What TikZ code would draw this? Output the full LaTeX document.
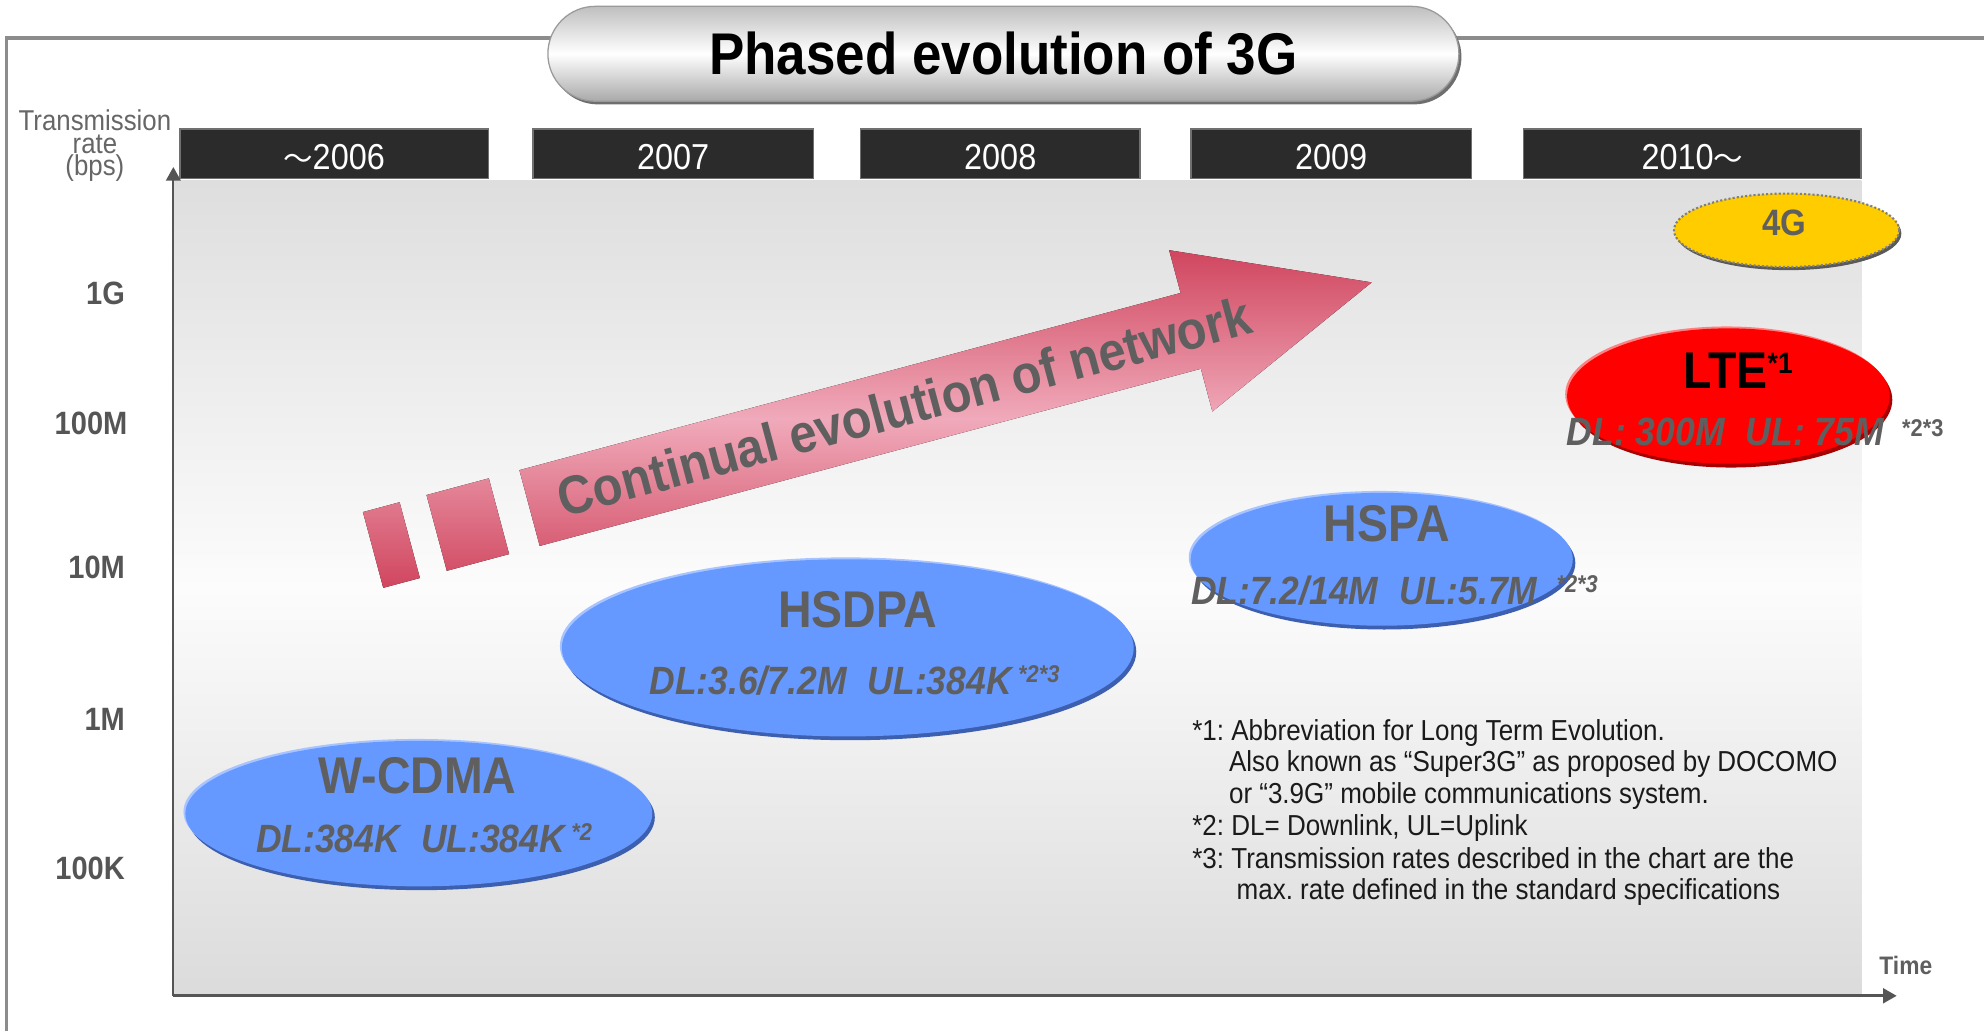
\documentclass[tikz,border=0pt]{standalone}
\usepackage{fontspec}
\setmainfont{Liberation Sans}[FakeStretch=0.9]
\newfontfamily\cjk{Noto Sans CJK JP}
\usetikzlibrary{shapes.geometric,arrows.meta,shadows}
\newcommand{\setfs}[1]{\fontsize{#1}{#1}\selectfont}
\frenchspacing
\definecolor{framegray}{HTML}{8C8C8C}
\definecolor{boxfill}{HTML}{2B2B2B}
\definecolor{boxborder}{HTML}{707070}
\definecolor{areatop}{HTML}{DEDEDE}
\definecolor{areamid}{HTML}{FCFCFC}
\definecolor{areabot}{HTML}{DBDBDB}
\definecolor{axisgray}{HTML}{555555}
\definecolor{lblgray}{HTML}{5F5F5F}
\definecolor{ticgray}{HTML}{555555}
\definecolor{ellblue}{HTML}{6699FF}
\definecolor{ellbluedark}{HTML}{3D5FB0}
\definecolor{ellbluelight}{HTML}{A8C4FF}
\definecolor{ltered}{HTML}{FF0000}
\definecolor{ltedark}{HTML}{A80000}
\definecolor{ltelight}{HTML}{FF8080}
\definecolor{gyellow}{HTML}{FFCC00}
\definecolor{arrowdark}{HTML}{D0465E}
\definecolor{arrowlight}{HTML}{F0AABB}
\definecolor{pilltop}{HTML}{BFBFBF}
\definecolor{pillbot}{HTML}{A9A9A9}
\definecolor{pillborder}{HTML}{9A9A9A}
\definecolor{pillshadow}{HTML}{6E6E6E}
\definecolor{notetext}{HTML}{1A1A1A}
\begin{document}
\begin{tikzpicture}[x=0.6pt,y=-0.6pt,
  frameline/.style={draw=framegray,line width=1.5pt},
  pill/.style={rounded corners=22.5pt,minimum width=432pt,minimum height=45pt,inner sep=0,
    draw=pillborder,line width=0.6pt,top color=pilltop,bottom color=pillbot,middle color=white,
    general shadow={fill=pillshadow,shadow xshift=1.2pt,shadow yshift=-1.5pt},
    font=\bfseries\setfs{27.9},text=black},
  yearbox/.style={draw=boxborder,line width=0.8pt,fill=boxfill,minimum height=23.4pt,inner sep=0,
    text height=14.6pt,text depth=0pt,text=white,font=\setfs{17.1}},
  axisy/.style={draw=axisgray,line width=0.9pt,-{Triangle[length=6.5pt,width=7pt]}},
  axisx/.style={draw=axisgray,line width=1.3pt,-{Triangle[length=6.5pt,width=7pt]}},
  ylbl/.style={inner sep=0,anchor=base,text=ticgray!90!white,font=\setfs{13.6}},
  tick/.style={inner sep=0,anchor=base east,text=ticgray,font=\bfseries\setfs{15.3}},
  blueell/.style={ellipse,inner sep=0,fill=ellblue,
    general shadow={fill=ellbluedark,shadow xshift=1.2pt,shadow yshift=-1.8pt},
    general shadow={fill=ellbluelight,shadow xshift=-0.9pt,shadow yshift=0.9pt}},
  redell/.style={ellipse,inner sep=0,fill=ltered,
    general shadow={fill=ltedark,shadow xshift=1.2pt,shadow yshift=-1.8pt},
    general shadow={fill=ltelight,shadow xshift=-0.9pt,shadow yshift=0.9pt}},
  yellell/.style={ellipse,inner sep=0,fill=gyellow,draw=gray,densely dotted,line width=1pt,
    general shadow={fill=gray!70!black,shadow xshift=1pt,shadow yshift=-1.5pt}},
  biglbl/.style={inner sep=0,anchor=base,text=lblgray,font=\bfseries\setfs{24.5}},
  dltext/.style={inner sep=0,anchor=base west,text=lblgray,font=\bfseries\itshape\setfs{18.7}},
  note/.style={inner sep=0,anchor=base west,text=notetext,font=\setfs{13.7}}
]
\useasboundingbox (0,0) rectangle (1568,815);

% outer frame
\coordinate (fbl) at (5,815);
\coordinate (ftl) at (5,30);
\coordinate (ftr) at (1568,30);
\draw[frameline] (fbl) -- (ftl) -- (ftr);

% title
\node[pill] (title) at (793,42.5) {Phased evolution of 3G};

% plot area
\fill[top color=areatop,bottom color=areabot,middle color=areamid] (137,143) rectangle (1471,787);

% year boxes
\node[yearbox,minimum width=146.4pt] (y1) at (264,121.5) {{\cjk\setfs{14}～}2006};
\node[yearbox,minimum width=133.2pt] (y2) at (532,121.5) {2007};
\node[yearbox,minimum width=132.6pt] (y3) at (790.5,121.5) {2008};
\node[yearbox,minimum width=133.2pt] (y4) at (1052,121.5) {2009};
\node[yearbox,minimum width=160.2pt] (y5) at (1337.5,121.5) {2010{\cjk\setfs{14}～}};

% axes
\coordinate (o) at (137,787);
\coordinate (yend) at (137,132);
\coordinate (xend) at (1499,787);
\draw[axisy] (o) -- (yend);
\draw[axisx] (o) -- (xend);

% axis labels
\node[ylbl] (yl1) at (75,103) {Transmission};
\node[ylbl] (yl2) at (75,121) {rate};
\node[ylbl] (yl3) at (75,139) {(bps)};
\node[tick] (t1) at (99,241) {1G};
\node[tick] (t2) at (101,343) {100M};
\node[tick] (t3) at (99,457) {10M};
\node[tick] (t4) at (99,577) {1M};
\node[tick] (t5) at (99,695) {100K};
\node[inner sep=0,anchor=base west,text=lblgray,font=\bfseries\setfs{12}] (time) at (1485,770) {Time};

% evolution arrow
\begin{scope}[shift={(418.5,401.5)},rotate=15]
  \coordinate (b1) at (0,-31);
  \coordinate (b2) at (541,-31);
  \coordinate (b3) at (541,-66);
  \coordinate (btip) at (689,0);
  \coordinate (b5) at (541,66);
  \coordinate (b6) at (541,31);
  \coordinate (b7) at (0,31);
  \coordinate (s1a) at (-128,-31);
  \coordinate (s1b) at (-98,-31);
  \coordinate (s1c) at (-98,31);
  \coordinate (s1d) at (-128,31);
  \coordinate (s2a) at (-76,-31);
  \coordinate (s2b) at (-25,-31);
  \coordinate (s2c) at (-25,31);
  \coordinate (s2d) at (-76,31);
  \coordinate (atext) at (307,-1);
\end{scope}
\fill[top color=arrowdark,bottom color=arrowdark,middle color=arrowlight]
  (b1) -- (b2) -- (b3) -- (btip) -- (b5) -- (b6) -- (b7) -- cycle
  (s1a) -- (s1b) -- (s1c) -- (s1d) -- cycle
  (s2a) -- (s2b) -- (s2c) -- (s2d) -- cycle;
\node[inner sep=0,rotate=15,text=lblgray,font=\bfseries\setfs{25.7}] (arrowtext) at (atext) {Continual evolution of network};

% ellipses
\node[yellell,minimum width=106.8pt,minimum height=34.8pt] (e4g) at (1412,182) {};
\node[redell,minimum width=153pt,minimum height=64.2pt] (elte) at (1366,313) {};
\node[blueell,minimum width=181.2pt,minimum height=63pt] (ehspa) at (1092,442) {};
\node[blueell,minimum width=271.2pt,minimum height=84pt] (ehsdpa) at (670,512) {};
\node[blueell,minimum width=221.4pt,minimum height=69pt] (ewcdma) at (331,643) {};

% ellipse labels
\node[inner sep=0,anchor=base,text=lblgray,font=\bfseries\setfs{17.4}] (l4g) at (1410,186) {4G};
\node[inner sep=0,anchor=base west,text=black,font=\bfseries\setfs{24.5}] (llte) at (1330,307) {LTE\raisebox{7pt}{\setfs{14}*1}};
\node[dltext] (dllte) at (1238,352) {DL: 300M\hspace{10pt}UL: 75M};
\node[inner sep=0,anchor=base west,text=lblgray,font=\bfseries\setfs{11.5}] (nlte) at (1503,345) {*2*3};

\node[biglbl] (lhspa) at (1096,428) {HSPA};
\node[dltext] (dlhspa) at (941,478) {DL:7.2/14M\hspace{10pt}UL:5.7M\hspace{9pt}\raisebox{6pt}{\setfs{11.5}*2*3}};

\node[biglbl] (lhsdpa) at (678,496) {HSDPA};
\node[dltext] (dlhsdpa) at (513,549) {DL:3.6/7.2M\hspace{10pt}UL:384K\hspace{3pt}\raisebox{6pt}{\setfs{11.5}*2*3}};

\node[biglbl] (lwcdma) at (330,627) {W-CDMA};
\node[dltext] (dlwcdma) at (202,674) {DL:384K\hspace{10pt}UL:384K\hspace{3pt}\raisebox{6pt}{\setfs{11.5}*2}};

% footnotes
\node[note] (n1) at (942,585) {*1: Abbreviation for Long Term Evolution.};
\node[note] (n2) at (971,610) {Also known as “Super3G” as proposed by DOCOMO};
\node[note] (n3) at (971,635) {or “3.9G” mobile communications system.};
\node[note] (n4) at (942,660) {*2: DL= Downlink, UL=Uplink};
\node[note] (n5) at (942,686) {*3: Transmission rates described in the chart are the};
\node[note] (n6) at (977,711) {max. rate defined in the standard specifications};
\end{tikzpicture}
\end{document}
